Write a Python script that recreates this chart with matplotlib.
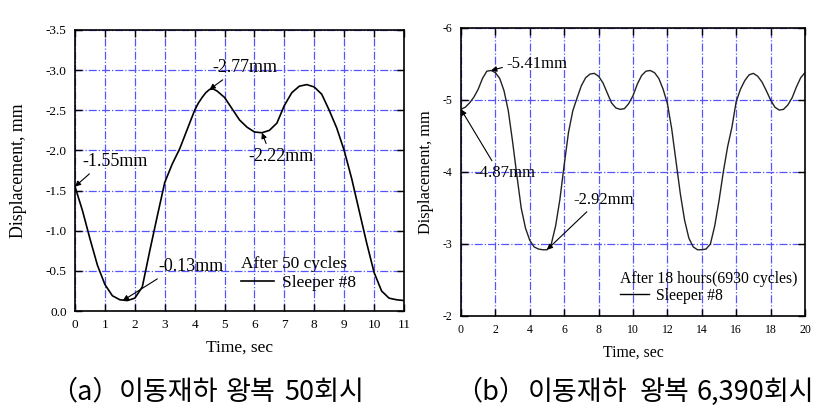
import matplotlib
matplotlib.use("Agg")
import matplotlib.pyplot as plt

plt.rcParams['font.family'] = ['Liberation Serif', 'DejaVu Sans']
plt.rcParams['axes.unicode_minus'] = False

# (a) after 50 cycles
time_a = [0, 0.25, 0.5, 0.75, 1.0, 1.25, 1.5, 1.75, 2.0, 2.25, 2.5, 2.75, 3.0,
          3.25, 3.5, 3.75, 4.0, 4.125, 4.25, 4.375, 4.5, 4.625, 4.75, 5.0,
          5.25, 5.5, 5.75, 6.0, 6.25, 6.5, 6.75, 7.0, 7.25, 7.5, 7.75, 8.0,
          8.25, 8.5, 8.75, 9.0, 9.25, 9.5, 9.75, 10.0, 10.25, 10.5, 10.75, 11.0]
disp_a = [-1.55, -1.25, -0.90, -0.57, -0.33, -0.19, -0.14, -0.13, -0.16, -0.30,
          -0.75, -1.18, -1.60, -1.83, -2.02, -2.26, -2.50, -2.59, -2.66, -2.72,
          -2.76, -2.765, -2.74, -2.66, -2.52, -2.38, -2.29, -2.23, -2.22, -2.25,
          -2.34, -2.56, -2.72, -2.80, -2.82, -2.79, -2.70, -2.50, -2.28, -2.00,
          -1.65, -1.25, -0.85, -0.48, -0.25, -0.16, -0.14, -0.13]

# (b) after 18 hours
time_b = [0, 0.25, 0.5, 0.75, 1.0, 1.25, 1.5, 1.75, 2.0, 2.25, 2.5, 2.75, 3.0,
          3.25, 3.5, 3.75, 4.0, 4.25, 4.5, 4.75, 5.0, 5.25, 5.5, 5.75, 6.0,
          6.25, 6.5, 6.75, 7.0, 7.25, 7.5, 7.75, 8.0, 8.25, 8.5, 8.75, 9.0,
          9.25, 9.5, 9.75, 10.0, 10.25, 10.5, 10.75, 11.0, 11.25, 11.5, 11.75,
          12.0, 12.25, 12.5, 12.75, 13.0, 13.25, 13.5, 13.75, 14.0, 14.25, 14.5,
          14.75, 15.0, 15.25, 15.5, 15.75, 16.0, 16.25, 16.5, 16.75, 17.0,
          17.25, 17.5, 17.75, 18.0, 18.25, 18.5, 18.75, 19.0, 19.25, 19.5,
          19.75, 20.0]
disp_b = [-4.87, -4.90, -4.96, -5.04, -5.15, -5.30, -5.40, -5.41, -5.38, -5.30,
          -5.13, -4.85, -4.42, -3.95, -3.50, -3.22, -3.05, -2.96, -2.93, -2.92,
          -2.92, -3.00, -3.25, -3.62, -4.10, -4.55, -4.85, -5.03, -5.20, -5.31,
          -5.36, -5.37, -5.33, -5.24, -5.10, -4.96, -4.89, -4.87, -4.88, -4.95,
          -5.06, -5.22, -5.34, -5.40, -5.41, -5.38, -5.30, -5.15, -4.95, -4.60,
          -4.15, -3.70, -3.33, -3.08, -2.96, -2.92, -2.92, -2.93, -3.00, -3.25,
          -3.60, -4.00, -4.35, -4.62, -4.98, -5.15, -5.27, -5.35, -5.37, -5.33,
          -5.25, -5.13, -5.00, -4.90, -4.86, -4.87, -4.93, -5.03, -5.18, -5.31,
          -5.38]

ticks_a_x = list(range(0, 12))
ticks_a_y = [-3.5, -3.0, -2.5, -2.0, -1.5, -1.0, -0.5, 0.0]
ticks_b_x = list(range(0, 21, 2))
ticks_b_y = [-6, -5, -4, -3, -2]

# caption pieces: (text, x in px) - first piece centred, others left-aligned
caption_a = [("（a）", 85), ("이동재하", 119), ("왕복", 226), ("50회시", 284)]
caption_b = [("（b）", 491), ("이동재하", 528), ("왕복", 640), ("6,390회시", 697)]

GRID = '#5555ff'

fig = plt.figure(figsize=(8.36, 4.12), dpi=100)
ax1 = fig.add_axes([75 / 836, 101 / 412, 329 / 836, 281 / 412])
ax2 = fig.add_axes([461 / 836, 96 / 412, 344 / 836, 288 / 412])


def style(ax, xt, yt, size):
    ax.set_xticks(xt)
    ax.set_yticks(yt)
    ax.grid(True, color=GRID, linestyle='-.', linewidth=0.9)
    ax.set_axisbelow(True)
    ax.tick_params(direction='in', top=True, right=True, length=5, width=1,
                   labelsize=size, pad=6)
    for s in ax.spines.values():
        s.set_linewidth(1.2)


def arrow(rx, ry):
    return dict(arrowstyle='-|>', color='black', lw=0.8, mutation_scale=8,
                shrinkA=1, shrinkB=0, relpos=(rx, ry))


# left panel
ax1.plot(time_a, disp_a, color='black', lw=1.2)
ax1.set_xlim(0, 11)
ax1.set_ylim(0, -3.5)
ax1.set_yticklabels([f"{v:.1f}" for v in ticks_a_y])
style(ax1, ticks_a_x, ticks_a_y, 9.5)
ax1.set_xlabel("Time, sec", fontsize=12.5, labelpad=6)
ax1.set_ylabel("Displacement, mm", fontsize=12.8, labelpad=13)

ax1.annotate("-1.55mm", xy=(time_a[0], disp_a[0]), xytext=(1.34, -1.86),
             ha='center', va='center', fontsize=13, arrowprops=arrow(0.2, 0.1))
ax1.annotate("-2.77mm", xy=(time_a[20], disp_a[20]), xytext=(5.68, -3.03),
             ha='center', va='center', fontsize=13, arrowprops=arrow(0.27, 0.1))
ax1.annotate("-2.22mm", xy=(time_a[28], disp_a[28]), xytext=(6.89, -1.93),
             ha='center', va='center', fontsize=13, arrowprops=arrow(0.3, 0.95))
ax1.annotate("-0.13mm", xy=(time_a[7] - 0.15, disp_a[7]), xytext=(3.88, -0.55),
             ha='center', va='center', fontsize=13, arrowprops=arrow(0.11, 0.1))

ax1.plot([], [], color='black', lw=1.2, label="Sleeper #8")
leg = ax1.legend(title="After 50 cycles", loc='upper left',
                 bbox_to_anchor=(0.479, 0.225), frameon=False, fontsize=12.5,
                 title_fontsize=12.5, alignment='left', borderpad=0,
                 handlelength=1.9, handletextpad=0.45, labelspacing=0.2)
leg._legend_box.sep = 2

# right panel
ax2.plot(time_b, disp_b, color='#222222', lw=1.0)
ax2.set_xlim(0, 20)
ax2.set_ylim(-2, -6)
style(ax2, ticks_b_x, ticks_b_y, 8.5)
ax2.set_xlabel("Time, sec", fontsize=11.3, labelpad=6)
ax2.set_ylabel("Displacement, mm", fontsize=11.8, labelpad=6)

ax2.annotate("-5.41mm", xy=(time_b[7], disp_b[7]), xytext=(4.42, -5.5),
             ha='center', va='center', fontsize=12, arrowprops=arrow(0.0, 0.35))
ax2.annotate("-4.87mm", xy=(time_b[0], disp_b[0]), xytext=(2.56, -3.99),
             ha='center', va='center', fontsize=12, arrowprops=arrow(0.34, 0.9))
ax2.annotate("-2.92mm", xy=(time_b[20], disp_b[20]), xytext=(8.31, -3.61),
             ha='center', va='center', fontsize=12, arrowprops=arrow(0.31, 0.1))

ax2.plot([], [], color='black', lw=1.0, label="Sleeper #8")
leg2 = ax2.legend(title="After 18 hours(6930 cycles)", loc='upper left',
                  bbox_to_anchor=(0.438, 0.185), frameon=False, fontsize=11.3,
                  title_fontsize=11.3, alignment='left', borderpad=0,
                  handlelength=1.9, handletextpad=0.45, labelspacing=0.2)
leg2._legend_box.sep = 1

# Korean captions
cap_font = ['Noto Sans CJK KR', 'DejaVu Sans']
for caption in (caption_a, caption_b):
    for i, (word, px) in enumerate(caption):
        fig.text(px / 836, 1 - 392 / 412, word, ha='center' if i == 0 else 'left',
                 va='center', fontsize=19.5, family=cap_font)

fig.savefig("out.png", dpi=100)
